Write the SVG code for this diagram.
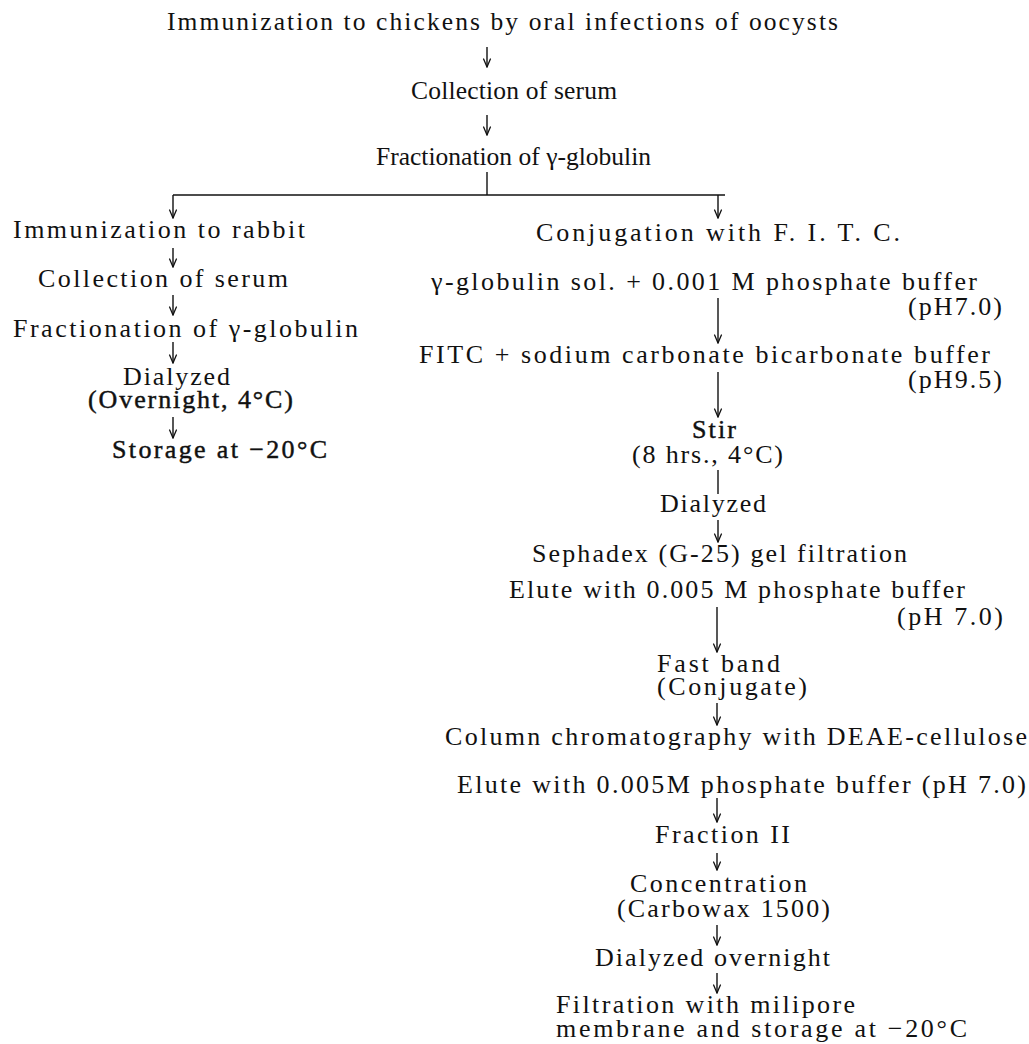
<svg xmlns="http://www.w3.org/2000/svg" width="1029" height="1044" viewBox="0 0 1029 1044">
<defs>
<style>
text{font-family:"Liberation Serif","Times New Roman",serif;font-size:26px;fill:#111;}
.top{font-size:25.5px;}
.b{stroke:#111;stroke-width:0.45;}
.c{stroke:#111;stroke-width:1.4;fill:none;}
.h{stroke:#111;stroke-width:1.3;fill:none;stroke-linecap:round;}
</style>
<marker id="ah" viewBox="-9 -5 10 10" markerWidth="10" markerHeight="10" refX="0" refY="0" orient="auto" markerUnits="userSpaceOnUse">
<path d="M-8,-3.4 L0,0 L-8,3.4" class="h"/>
</marker>
</defs>
<rect width="1029" height="1044" fill="#fff"/>
<g id="connectors">
<path class="c" d="M487,47 V67" marker-end="url(#ah)"/>
<path class="c" d="M487,115 V135" marker-end="url(#ah)"/>
<path class="c" d="M487,172 V195"/>
<path class="c" d="M173,195 H725"/>
<path class="c" d="M173,195 V218" marker-end="url(#ah)"/>
<path class="c" d="M718,195 V218" marker-end="url(#ah)"/>
<path class="c" d="M173,248 V267" marker-end="url(#ah)"/>
<path class="c" d="M173,295 V315" marker-end="url(#ah)"/>
<path class="c" d="M173,342 V363" marker-end="url(#ah)"/>
<path class="c" d="M173,417 V438" marker-end="url(#ah)"/>
<path class="c" d="M718,298 V343" marker-end="url(#ah)"/>
<path class="c" d="M718,372 V417" marker-end="url(#ah)"/>
<path class="c" d="M718,470 V494"/>
<path class="c" d="M718,520 V542" marker-end="url(#ah)"/>
<path class="c" d="M717,607 V652" marker-end="url(#ah)"/>
<path class="c" d="M717,703 V725" marker-end="url(#ah)"/>
<path class="c" d="M717,798 V822" marker-end="url(#ah)"/>
<path class="c" d="M717,853 V870" marker-end="url(#ah)"/>
<path class="c" d="M717,925 V945" marker-end="url(#ah)"/>
<path class="c" d="M717,973 V993" marker-end="url(#ah)"/>
</g>
<g id="n-top1"><text class="top" x="167" y="30" textLength="671" lengthAdjust="spacing">Immunization to chickens by oral infections of oocysts</text></g>
<g id="n-top2"><text class="top" x="411" y="99" textLength="206" lengthAdjust="spacing">Collection of serum</text></g>
<g id="n-top3"><text class="top" x="376" y="165" textLength="275" lengthAdjust="spacing">Fractionation of γ-globulin</text></g>

<g id="n-l1"><text x="13" y="238" textLength="292" lengthAdjust="spacing">Immunization to rabbit</text></g>
<g id="n-l2"><text x="38" y="287" textLength="250" lengthAdjust="spacing">Collection of serum</text></g>
<g id="n-l3"><text x="13" y="337" textLength="345" lengthAdjust="spacing">Fractionation of γ-globulin</text></g>
<g id="n-l4"><text x="123" y="385" textLength="107" lengthAdjust="spacing">Dialyzed</text><text class="b" x="88" y="408" textLength="205" lengthAdjust="spacing">(Overnight, 4°C)</text></g>
<g id="n-l5"><text class="b" x="112" y="458" textLength="215" lengthAdjust="spacing">Storage at −20°C</text></g>

<g id="n-r1"><text x="536" y="241" textLength="364" lengthAdjust="spacing">Conjugation with F. I. T. C.</text></g>
<g id="n-r2"><text x="431" y="290" textLength="546" lengthAdjust="spacing">γ-globulin sol. + 0.001 M phosphate buffer</text><text x="908" y="315" textLength="94" lengthAdjust="spacing">(pH7.0)</text></g>
<g id="n-r3"><text x="419" y="363" textLength="571" lengthAdjust="spacing">FITC + sodium carbonate bicarbonate buffer</text><text x="908" y="388" textLength="94" lengthAdjust="spacing">(pH9.5)</text></g>
<g id="n-r4"><text class="b" x="692" y="438" textLength="44" lengthAdjust="spacing">Stir</text><text x="632" y="463" textLength="151" lengthAdjust="spacing">(8 hrs., 4°C)</text></g>
<g id="n-r5"><text x="660" y="512" textLength="106" lengthAdjust="spacing">Dialyzed</text></g>
<g id="n-r6"><text x="532" y="562" textLength="375" lengthAdjust="spacing">Sephadex (G-25) gel filtration</text></g>
<g id="n-r7"><text x="509" y="598" textLength="456" lengthAdjust="spacing">Elute with 0.005 M phosphate buffer</text><text x="897" y="625" textLength="106" lengthAdjust="spacing">(pH 7.0)</text></g>
<g id="n-r8"><text x="657" y="672" textLength="123" lengthAdjust="spacing">Fast band</text><text x="657" y="695" textLength="150" lengthAdjust="spacing">(Conjugate)</text></g>
<g id="n-r9"><text x="445" y="745" textLength="582" lengthAdjust="spacing">Column chromatography with DEAE-cellulose</text></g>
<g id="n-r10"><text x="457" y="793" textLength="569" lengthAdjust="spacing">Elute with 0.005M phosphate buffer (pH 7.0)</text></g>
<g id="n-r11"><text x="655" y="843" textLength="135" lengthAdjust="spacing">Fraction II</text></g>
<g id="n-r12"><text x="630" y="892" textLength="177" lengthAdjust="spacing">Concentration</text><text x="617" y="917" textLength="213" lengthAdjust="spacing">(Carbowax 1500)</text></g>
<g id="n-r13"><text x="595" y="966" textLength="235" lengthAdjust="spacing">Dialyzed overnight</text></g>
<g id="n-r14"><text x="556" y="1013" textLength="299" lengthAdjust="spacing">Filtration with milipore</text><text x="556" y="1037" textLength="411" lengthAdjust="spacing">membrane and storage at −20°C</text></g>
</svg>
